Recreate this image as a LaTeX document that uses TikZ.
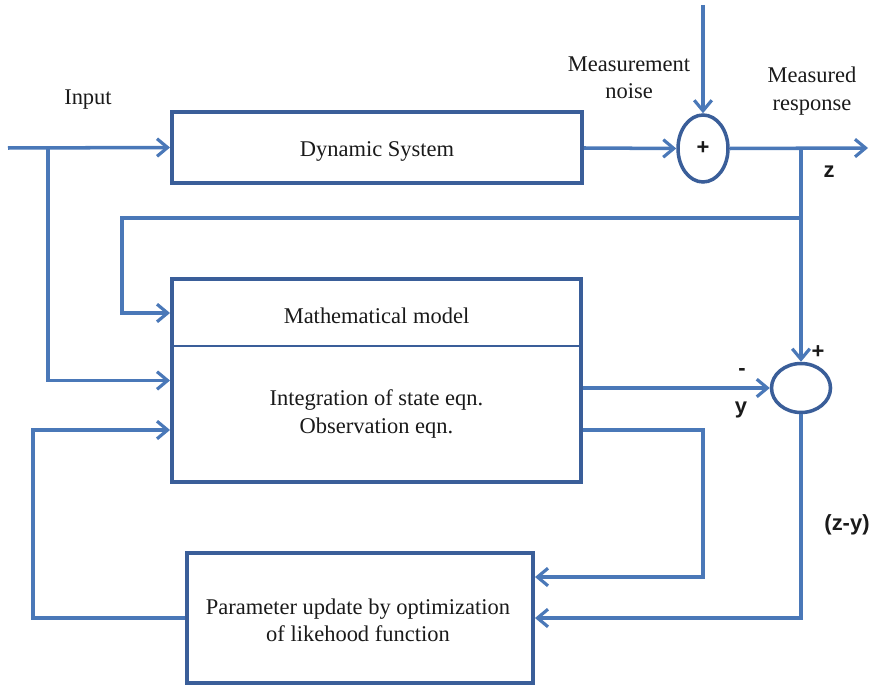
\documentclass[tikz,border=0pt]{standalone}
\usepackage{fontspec}
\setmainfont{Liberation Serif}
\setsansfont{Liberation Sans}
\usepackage{xcolor}
\usepackage{tikz}
\usetikzlibrary{positioning, arrows.meta, calc, shapes.geometric}
\definecolor{blkedge}{HTML}{3A5E99}
\definecolor{sigline}{HTML}{4A78B8}
\definecolor{lbltext}{HTML}{1A1A1A}

\begin{document}
\begin{tikzpicture}[x=0.02cm, y=-0.02cm,
  blockbox/.style={rectangle, draw=blkedge, line width=2.3pt, fill=white,
                   inner sep=0pt},
  sumnode/.style={ellipse, draw=blkedge, line width=2pt, inner sep=0pt},
  conn/.style={-{Straight Barb[length=6pt, width=10pt, line width=1.8pt]},
               draw=sigline, line width=2pt},
  txt/.style={text=lbltext, font=\fontsize{12.8}{15.5}\selectfont, align=center,
              inner sep=0pt},
  sig/.style={text=lbltext, font=\sffamily\bfseries\fontsize{12.5}{14}\selectfont,
              inner sep=0pt}
]
\useasboundingbox (0,0) rectangle (874,685);

% blocks
\node[blockbox, minimum width=8.2cm, minimum height=1.42cm] (dyn) at (377,147.5) {};
\node[blockbox, minimum width=8.18cm, minimum height=4.06cm] (model) at (376.5,380.5) {};
\node[blockbox, minimum width=6.92cm, minimum height=2.6cm] (param) at (360,618) {};
\draw[blkedge, line width=1.5pt] ([yshift=-1.38cm]model.north west) -- ([yshift=-1.38cm]model.north east);

\node[txt] (dyntext) at (377,151) {Dynamic System};
\node[txt] (mtitle) at (376.5,316) {Mathematical model};
\node[txt] (mbody) at (376.5,414) {Integration of state eqn.\\ Observation eqn.};
\node[txt] (ptext) at (358,620) {Parameter update by optimization\\ of likehood function};

% summing junctions
\node[sumnode, minimum width=1.0cm, minimum height=1.34cm] (sum1) at (703,148.5) {};
\node[sig] (plus1) at (sum1.center) {+};
\node[sumnode, minimum width=1.18cm, minimum height=0.98cm] (sum2) at (801,388) {};

% free ends and corners
\coordinate (in) at (8,148);
\coordinate (inb) at (48,148);
\coordinate (noise) at (703,5);
\coordinate (out) at (868,148);
\coordinate (zt) at (801,148);
\coordinate (zb) at (801,218);
\coordinate (mdl) at (122,313);
\coordinate (obs) at (703,430);
\coordinate (fbl) at (33,430);

% connectors
\draw[conn] (in) -- (dyn.west);
\draw[conn] (inb) |- (model.west);
\draw[conn] (dyn.east |- in) -- (sum1.west);
\draw[conn] (noise) -- (sum1.north);
\draw[conn] (sum1.east) -- (out);
\draw[conn] (zt) -- (sum2.north);
\draw[conn] (zb) -| (mdl) -- (model.west |- mdl);
\draw[conn] (model.east |- sum2.west) -- (sum2.west);
\draw[conn] (model.east |- obs) -- (obs) |- ([yshift=0.82cm]param.east);
\draw[conn] (sum2.south) |- (param.east);
\draw[conn] (param.west) -| (fbl) -- (model.west |- fbl);

% labels
\node[txt] (inlbl) at (88,100) {Input};
\node[txt] (noiselbl) at (629,78) {Measurement\\ noise};
\node[txt] (resplbl) at (812,91) {Measured\\ response};
\node[sig] (zlbl) at (829,172) {z};
\node[sig] (plus2) at (818,352) {+};
\node[sig] (minus2) at (742,372) {-};
\node[sig] (ylbl) at (741,410) {y};
\node[sig] (zylbl) at (847,525) {(z-y)};
\end{tikzpicture}
\end{document}
